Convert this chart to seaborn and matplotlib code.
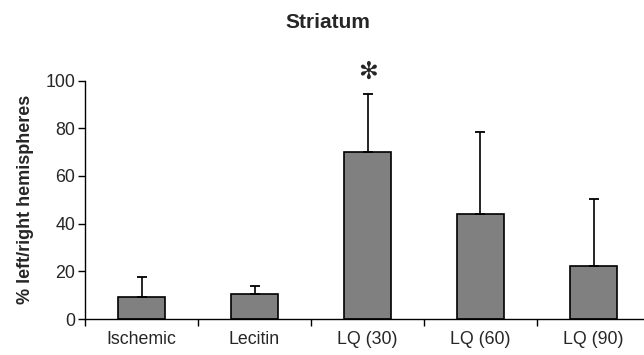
import matplotlib
matplotlib.use("Agg")
import matplotlib.pyplot as plt
import seaborn as sns
import pandas as pd
import numpy as np

categories = ["Ischemic", "Lecitin", "LQ (30)", "LQ (60)", "LQ (90)"]
means = [9.4, 10.3, 69.9, 44.0, 22.2]
err_up = [8.3, 3.7, 24.3, 34.6, 28.1]
yticks = [0, 20, 40, 60, 80, 100]

sns.set_theme(style="white")
plt.rcParams['font.family'] = ['Liberation Sans', 'DejaVu Sans']

fig = plt.figure(figsize=(6.44, 3.55), dpi=100)
ax = fig.add_axes([85/644, 1 - 319/355, 565/644, (319 - 80.6)/355])

df = pd.DataFrame({"cat": categories, "val": means})
sns.barplot(data=df, x="cat", y="val", color="#808080", saturation=1,
            width=0.41, edgecolor="black", linewidth=1.2, ax=ax)
x = np.arange(len(categories))
ax.errorbar(x, means, yerr=[np.zeros(len(means)), err_up], fmt="none",
            ecolor="black", elinewidth=1.2, capsize=3.3, capthick=1.3)

ax.set_xlim(-0.5, 4.5)
ax.set_ylim(0, 100)
ax.set_yticks(yticks)
ax.set_yticklabels([str(t) for t in yticks], fontsize=12.8)
ax.set_xticks(x)
ax.set_xticklabels(categories, fontsize=12.8)
ax.set_xticks(np.arange(-0.5, 5.0, 1.0), minor=True)
ax.tick_params(axis="x", which="major", length=0, pad=9)
ax.tick_params(axis="x", which="minor", length=5, width=1, color="black", direction="out", bottom=True)
ax.tick_params(axis="y", length=5, width=1, color="black", direction="out", left=True, pad=2)
ax.set_xlabel("")
ax.set_ylabel("% left/right hemispheres", fontsize=13, fontweight="bold", labelpad=8)

for s in ["top", "right"]:
    ax.spines[s].set_visible(False)
for s in ["left", "bottom"]:
    ax.spines[s].set_color("black")
    ax.spines[s].set_linewidth(1)

ax.text(2, 103.5, "✻", ha="center", va="center", fontsize=17, fontweight="bold",
        family=["DejaVu Sans"], clip_on=False)
fig.text(328/644, 1 - 22/355, "Striatum", ha="center", va="center",
         fontsize=15, fontweight="bold")

fig.savefig("out.png", dpi=100)
